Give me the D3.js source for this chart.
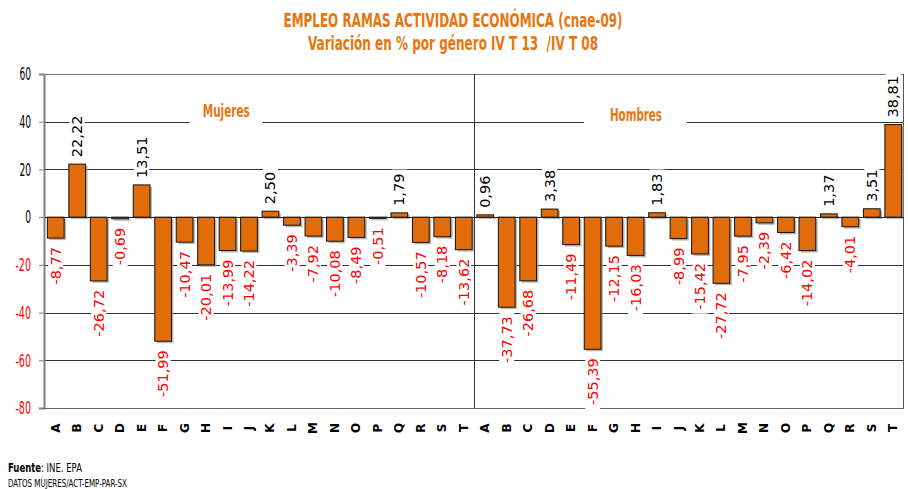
<!DOCTYPE html>
<html><head><meta charset="utf-8">
<script src="https://cdn.jsdelivr.net/npm/d3@7"></script>
<style>body{margin:0;background:#fff;} svg{display:block;}</style>
</head><body>
<svg id="chart" width="908" height="489"></svg>
<script>
const categories = ["A","B","C","D","E","F","G","H","I","J","K","L","M","N","O","P","Q","R","S","T"];
const mujeres = [-8.77, 22.22, -26.72, -0.69, 13.51, -51.99, -10.47, -20.01, -13.99, -14.22, 2.50, -3.39, -7.92, -10.08, -8.49, -0.51, 1.79, -10.57, -8.18, -13.62];
const hombres = [0.96, -37.73, -26.68, 3.38, -11.49, -55.39, -12.15, -16.03, 1.83, -8.99, -15.42, -27.72, -7.95, -2.39, -6.42, -14.02, 1.37, -4.01, 3.51, 38.81];
const groupNames = ["Mujeres", "Hombres"];
const yTicks = [60, 40, 20, 0, -20, -40, -60, -80];
const titleLines = ["EMPLEO RAMAS ACTIVIDAD ECONÓMICA (cnae-09)", "Variación en % por género IV T 13  /IV T 08"];
const sourceLabel = "Fuente";
const sourceText = ": INE. EPA";
const noteText = "DATOS MUJERES/ACT-EMP-PAR-SX";

(function () {
const NARROW = "'Liberation Sans Narrow','Arial Narrow','DejaVu Sans Condensed',sans-serif";
const ORANGE = "#E36C0A";
const TITLE_ORANGE = "#E8760F";

const data = [];
[mujeres, hombres].forEach((arr, gi) => {
  arr.forEach((v, i) => data.push({ group: groupNames[gi], cat: categories[i], key: groupNames[gi] + "-" + categories[i], value: v }));
});

const svg = d3.select("#chart");
const pL = 45, pR = 904, pT = 74, pB = 408;

const x = d3.scaleBand().domain(data.map(d => d.key)).range([pL, pR]).paddingInner(0.22).paddingOuter(0.11);
const y = d3.scaleLinear().domain([-80, 60]).range([pB, pT]);
const fmt = v => d3.format(".2f")(v).replace(".", ",").replace("\u2212", "-");

// Title
titleLines.forEach((t, i) => {
  svg.append("text")
    .attr("x", 453).attr("y", i === 0 ? 27 : 50)
    .attr("text-anchor", "middle")
    .attr("textLength", i === 0 ? 339 : 290)
    .attr("lengthAdjust", "spacingAndGlyphs")
    .style("white-space", "pre")
    .style("font-family", NARROW).style("font-weight", "bold").style("font-size", "19px")
    .attr("fill", TITLE_ORANGE)
    .text(t);
});

// Gridlines
svg.append("g").selectAll("line").data(yTicks.filter(v => v > -80))
  .join("line")
  .attr("x1", pL).attr("x2", pR)
  .attr("y1", d => Math.round(y(d)) + 0.5).attr("y2", d => Math.round(y(d)) + 0.5)
  .attr("stroke", d => d === 60 ? "#777" : "#333").attr("stroke-width", 1);

// separator between groups
const sepX = x(groupNames[1] + "-" + categories[0]) - (x.step() - x.bandwidth()) / 2;
svg.append("line").attr("x1", Math.round(sepX) + 0.5).attr("x2", Math.round(sepX) + 0.5)
  .attr("y1", pT).attr("y2", pB).attr("stroke", "#333");
// right border
svg.append("line").attr("x1", pR - 0.5).attr("x2", pR - 0.5)
  .attr("y1", pT).attr("y2", pB).attr("stroke", "#555");

// Y axis
const yAxis = d3.axisLeft(y).tickValues(yTicks).tickSize(5).tickPadding(8).tickFormat(d => String(d));
const ga = svg.append("g").attr("transform", `translate(${pL - 1},0)`).call(yAxis);
ga.select(".domain").attr("stroke", "#808080").attr("stroke-width", 2);
ga.selectAll(".tick line").attr("stroke", "#808080");
ga.selectAll(".tick text")
  .style("font-family", NARROW).style("font-size", "18px")
  .attr("fill", d => d < 0 ? "#FF0000" : "#000")
  .attr("textLength", d => String(Math.abs(d)).length * 5.8 + (d < 0 ? 4 : 0))
  .attr("lengthAdjust", "spacingAndGlyphs");
// bottom axis line
svg.append("line").attr("x1", pL - 1).attr("x2", pR).attr("y1", pB + 0.5).attr("y2", pB + 0.5)
  .attr("stroke", "#666").attr("stroke-width", 1.2);

// Bars shadow + bars
const barsG = svg.append("g");
barsG.selectAll("rect.sh").data(data).join("rect").attr("class", "sh")
  .attr("x", d => x(d.key) + 2)
  .attr("y", d => Math.min(y(d.value), y(0)) + 2)
  .attr("width", x.bandwidth())
  .attr("height", d => Math.abs(y(d.value) - y(0)))
  .attr("fill", "#9a9a9a").attr("opacity", 0.7);
barsG.selectAll("rect.bar").data(data).join("rect").attr("class", "bar")
  .attr("x", d => x(d.key))
  .attr("y", d => Math.min(y(d.value), y(0)))
  .attr("width", x.bandwidth())
  .attr("height", d => Math.abs(y(d.value) - y(0)))
  .attr("fill", ORANGE).attr("stroke", "#111").attr("stroke-width", 1);

// zero line on top
svg.append("line").attr("x1", pL).attr("x2", pR)
  .attr("y1", Math.round(y(0)) + 0.5).attr("y2", Math.round(y(0)) + 0.5).attr("stroke", "#222");

// Data labels
const lblG = svg.append("g");
data.forEach(d => {
  const cx = x(d.key) + x.bandwidth() / 2;
  const pos = d.value >= 0;
  const yy = pos ? y(d.value) - 7 : y(d.value) + 9;
  const g = lblG.append("g").attr("transform", `translate(${cx},${yy}) rotate(-90)`);
  const rect = g.append("rect").attr("fill", "#fff");
  const t = g.append("text")
    .attr("x", 0).attr("y", 0)
    .attr("text-anchor", pos ? "start" : "end")
    .attr("dominant-baseline", "central")
    .style("font-family", "'DejaVu Sans',Verdana,sans-serif").style("font-size", "14.5px")
    .attr("fill", pos ? "#000" : "#FF0000")
    .text(fmt(d.value));
  const bb = t.node().getBBox();
  rect.attr("x", bb.x - 4).attr("y", bb.y + 0.5).attr("width", bb.width + 8).attr("height", bb.height - 1);
});

// Group labels
const groupLabelPos = [{ fx: 0.211, y: 117, tl: 47, padL: 13, padR: 13 }, { fx: 0.688, y: 121, tl: 52, padL: 26, padR: 25 }];
groupNames.forEach((name, i) => {
  const p = groupLabelPos[i];
  const cx = pL + (pR - pL) * p.fx;
  svg.append("rect").attr("x", cx - p.tl / 2 - p.padL).attr("y", p.y - 16)
    .attr("width", p.tl + p.padL + p.padR).attr("height", 24).attr("fill", "#fff");
  svg.append("text").attr("x", cx).attr("y", p.y).attr("text-anchor", "middle")
    .attr("textLength", p.tl).attr("lengthAdjust", "spacingAndGlyphs")
    .style("font-family", NARROW).style("font-weight", "bold").style("font-size", "17px")
    .attr("fill", TITLE_ORANGE).text(name);
});

// Category labels
svg.append("g").selectAll("text").data(data).join("text")
  .attr("transform", d => `translate(${x(d.key) + x.bandwidth() / 2},428) rotate(-90)`)
  .attr("text-anchor", "middle").attr("dominant-baseline", "central")
  .style("font-family", "'DejaVu Sans',Verdana,sans-serif").style("font-weight", "bold").style("font-size", "12px")
  .attr("fill", "#000")
  .text(d => d.cat);

// Source (single text, horizontally condensed to the reference width)
const src = svg.append("text").attr("x", 0).attr("y", 0)
  .style("font-family", NARROW).style("font-size", "13px").attr("fill", "#000");
src.append("tspan").style("font-weight", "bold").text(sourceLabel);
src.append("tspan").text(sourceText);
const sw = src.node().getComputedTextLength();
src.attr("transform", `translate(8,472) scale(${74 / sw},1)`);

svg.append("text").attr("x", 8).attr("y", 487)
  .attr("textLength", 119).attr("lengthAdjust", "spacingAndGlyphs")
  .style("font-family", NARROW).style("font-size", "10.5px").attr("fill", "#000")
  .text(noteText);
})();
</script>
</body></html>
